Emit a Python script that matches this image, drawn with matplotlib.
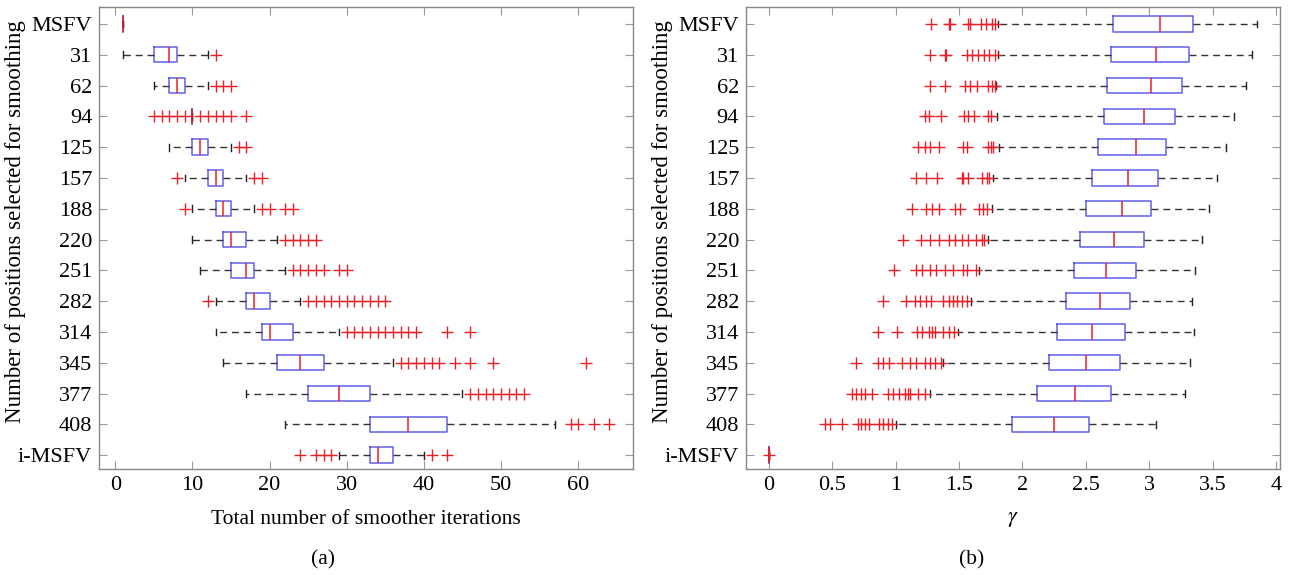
import matplotlib.pyplot as plt

plt.rcParams['font.family'] = ['Liberation Serif', 'DejaVu Serif']
plt.rcParams['mathtext.fontset'] = 'stix'

labels = ['MSFV', '31', '62', '94', '125', '157', '188', '220', '251',
          '282', '314', '345', '377', '408', 'i-MSFV']

# (a) total number of smoother iterations
it_lo = [1, 1, 5, 10, 7, 9, 10, 10, 11, 13, 13, 14, 17, 22, 29]
it_q1 = [1, 5, 7, 10, 10, 12, 13, 14, 15, 17, 19, 21, 25, 33, 33]
it_med = [1, 7, 8, 10, 11, 13, 14, 15, 17, 18, 20, 24, 29, 38, 34]
it_q3 = [1, 8, 9, 10, 12, 14, 15, 17, 18, 20, 23, 27, 33, 43, 36]
it_hi = [1, 12, 12, 10, 15, 17, 18, 21, 22, 24, 29, 36, 45, 57, 40]
it_fl = [[],
         [13],
         [13, 14, 15],
         [5, 6, 7, 8, 9, 11, 12, 13, 14, 15, 17],
         [16, 17],
         [8, 18, 19],
         [9, 19, 20, 22, 23],
         [22, 23, 24, 25, 26],
         [23, 24, 25, 26, 27, 29, 30],
         [12, 25, 26, 27, 28, 29, 30, 31, 32, 33, 34, 35],
         [30, 31, 32, 33, 34, 35, 36, 37, 38, 39, 43, 46],
         [37, 38, 39, 40, 41, 42, 44, 46, 49, 61],
         [46, 47, 48, 49, 50, 51, 52, 53],
         [59, 60, 62, 64],
         [24, 26, 27, 28, 41, 43]]

# (b) gamma
g_lo = [1.806, 1.806, 1.79, 1.80, 1.816, 1.768, 1.758, 1.726, 1.655,
        1.597, 1.49, 1.377, 1.268, 1.006, 0]
g_q1 = [2.716, 2.70, 2.668, 2.639, 2.597, 2.552, 2.503, 2.455, 2.403,
        2.342, 2.274, 2.21, 2.113, 1.919, 0]
g_med = [3.081, 3.055, 3.01, 2.961, 2.897, 2.832, 2.781, 2.719, 2.658,
         2.61, 2.552, 2.503, 2.413, 2.245, 0]
g_q3 = [3.348, 3.316, 3.258, 3.20, 3.135, 3.071, 3.016, 2.955, 2.897,
        2.848, 2.806, 2.768, 2.694, 2.526, 0]
g_hi = [3.848, 3.806, 3.765, 3.671, 3.606, 3.532, 3.474, 3.419, 3.361,
        3.339, 3.355, 3.323, 3.281, 3.055, 0]
g_fl = [[1.28, 1.42, 1.43, 1.57, 1.59, 1.67, 1.71, 1.76, 1.78],
        [1.27, 1.39, 1.40, 1.56, 1.60, 1.65, 1.70, 1.74, 1.78],
        [1.27, 1.39, 1.55, 1.59, 1.64, 1.73, 1.76, 1.78],
        [1.23, 1.26, 1.36, 1.54, 1.57, 1.62, 1.73, 1.75],
        [1.18, 1.23, 1.27, 1.34, 1.53, 1.56, 1.73, 1.75, 1.77],
        [1.16, 1.24, 1.33, 1.52, 1.53, 1.57, 1.68, 1.72, 1.74],
        [1.13, 1.24, 1.29, 1.34, 1.47, 1.51, 1.66, 1.69, 1.72],
        [1.06, 1.20, 1.27, 1.34, 1.42, 1.47, 1.52, 1.57, 1.63, 1.68, 1.70],
        [0.99, 1.16, 1.21, 1.27, 1.32, 1.39, 1.45, 1.53, 1.56, 1.63],
        [0.90, 1.08, 1.15, 1.19, 1.24, 1.28, 1.37, 1.42, 1.45, 1.48, 1.52, 1.56],
        [0.86, 1.01, 1.17, 1.21, 1.26, 1.29, 1.31, 1.37, 1.42, 1.46],
        [0.69, 0.86, 0.90, 0.95, 1.05, 1.11, 1.16, 1.23, 1.27, 1.31, 1.36],
        [0.66, 0.69, 0.73, 0.76, 0.81, 0.94, 0.98, 1.03, 1.07, 1.10, 1.11,
         1.18, 1.23],
        [0.44, 0.48, 0.58, 0.70, 0.73, 0.76, 0.79, 0.87, 0.90, 0.94, 0.97],
        [0]]

BLUE = '#6060e8'
RED = '#e8202a'
FS = 16


def make_stats(lo, q1, med, q3, hi, fl):
    stats = []
    for i in range(len(labels)):
        stats.append({'label': labels[i], 'whislo': lo[i], 'q1': q1[i],
                      'med': med[i], 'q3': q3[i], 'whishi': hi[i],
                      'fliers': fl[i]})
    return stats


def draw(ax, stats):
    ax.bxp(stats, positions=range(len(stats)), widths=0.5,
           orientation='horizontal', capwidths=0.22,
           boxprops=dict(color=BLUE, linewidth=1.1),
           medianprops=dict(color=RED, linewidth=1.1, zorder=4),
           whiskerprops=dict(color='#333333', linewidth=1.0,
                             linestyle=(0, (5, 3.5))),
           capprops=dict(color='#222222', linewidth=1.0),
           flierprops=dict(marker='+', markeredgecolor=RED,
                           markersize=9, markeredgewidth=1.0))
    ax.set_ylim(14.45, -0.55)
    ax.set_yticks(range(len(labels)))
    ax.set_yticklabels(labels, fontsize=FS)
    ax.tick_params(direction='in', top=True, right=True, length=6,
                   width=0.8, color='#999999', labelsize=FS, pad=5)
    for s in ax.spines.values():
        s.set_color('#888888')
        s.set_linewidth(1.0)
    ax.set_ylabel('Number of positions selected for smoothing', fontsize=16.5)
    ax.yaxis.set_label_coords(-0.136, 0.536)


fig = plt.figure(figsize=(12.89, 5.75), dpi=100)
ax1 = fig.add_axes([0.0768, 0.1843, 0.4143, 0.8035])
ax2 = fig.add_axes([0.5787, 0.1843, 0.4143, 0.8035])

draw(ax1, make_stats(it_lo, it_q1, it_med, it_q3, it_hi, it_fl))
ax1.set_xlim(-2.1, 67.1)
ax1.set_xticks([0, 10, 20, 30, 40, 50, 60])
ax1.set_xlabel('Total number of smoother iterations', fontsize=15.5,
               labelpad=11)

draw(ax2, make_stats(g_lo, g_q1, g_med, g_q3, g_hi, g_fl))
ax2.set_xlim(-0.18, 4.03)
ax2.set_xticks([0, 0.5, 1, 1.5, 2, 2.5, 3, 3.5, 4])
ax2.set_xticklabels(['0', '0.5', '1', '1.5', '2', '2.5', '3', '3.5', '4'])
ax2.set_xlabel(r'$\gamma$', fontsize=16, labelpad=11)

fig.text(323 / 1289, 1 - 560 / 575, '(a)', ha='center', va='center',
         fontsize=15.5)
fig.text(972 / 1289, 1 - 560 / 575, '(b)', ha='center', va='center',
         fontsize=15.5)

fig.savefig('out.png', dpi=100)
